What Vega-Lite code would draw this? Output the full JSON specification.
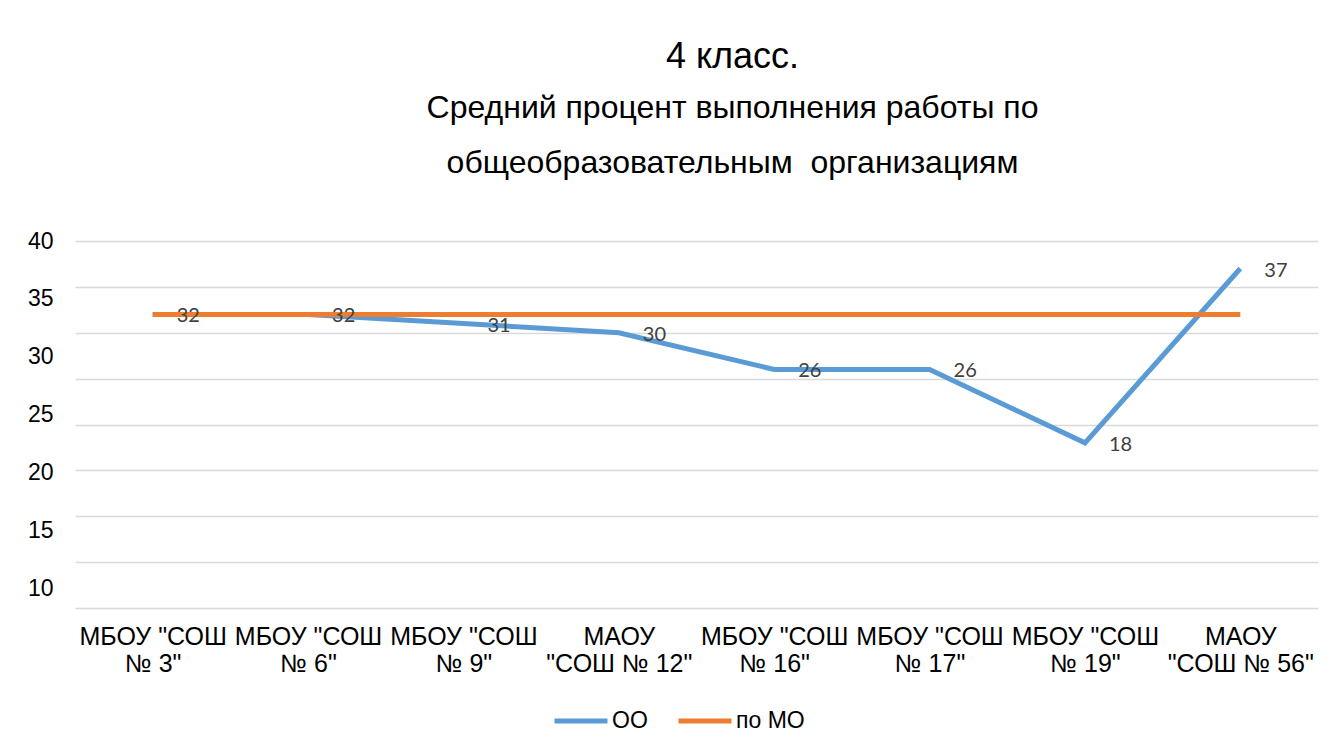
{
  "$schema": "https://vega.github.io/schema/vega-lite/v6.json",
  "autosize": {"type": "none"},
  "padding": {"left": 75, "top": 241, "right": 22, "bottom": 140},
  "width": 1243,
  "height": 367,
  "background": "white",
  "title": {
    "text": "4 класс.",
    "subtitle": ["Средний процент выполнения работы по", "общеобразовательным\u00a0 организациям"],
    "anchor": "middle",
    "dx": 36,
    "offset": 50,
    "font": "Liberation Sans",
    "fontSize": 36,
    "fontWeight": "normal",
    "color": "#000000",
    "subtitleFont": "Liberation Sans",
    "subtitleFontSize": 32,
    "subtitleColor": "#000000",
    "subtitleLineHeight": 55,
    "subtitlePadding": 17
  },
  "data": {
    "values": [
      {"school": "МБОУ \"СОШ\n№ 3\"", "series": "ОО", "value": 32},
      {"school": "МБОУ \"СОШ\n№ 6\"", "series": "ОО", "value": 32},
      {"school": "МБОУ \"СОШ\n№ 9\"", "series": "ОО", "value": 31},
      {"school": "МАОУ\n\"СОШ № 12\"", "series": "ОО", "value": 30},
      {"school": "МБОУ \"СОШ\n№ 16\"", "series": "ОО", "value": 26},
      {"school": "МБОУ \"СОШ\n№ 17\"", "series": "ОО", "value": 26},
      {"school": "МБОУ \"СОШ\n№ 19\"", "series": "ОО", "value": 18},
      {"school": "МАОУ\n\"СОШ № 56\"", "series": "ОО", "value": 37},
      {"school": "МБОУ \"СОШ\n№ 3\"", "series": "по МО", "value": 32},
      {"school": "МБОУ \"СОШ\n№ 6\"", "series": "по МО", "value": 32},
      {"school": "МБОУ \"СОШ\n№ 9\"", "series": "по МО", "value": 32},
      {"school": "МАОУ\n\"СОШ № 12\"", "series": "по МО", "value": 32},
      {"school": "МБОУ \"СОШ\n№ 16\"", "series": "по МО", "value": 32},
      {"school": "МБОУ \"СОШ\n№ 17\"", "series": "по МО", "value": 32},
      {"school": "МБОУ \"СОШ\n№ 19\"", "series": "по МО", "value": 32},
      {"school": "МАОУ\n\"СОШ № 56\"", "series": "по МО", "value": 32}
    ]
  },
  "encoding": {
    "x": {
      "field": "school",
      "type": "nominal",
      "sort": null,
      "scale": {"type": "point", "padding": 0.5},
      "axis": {
        "title": null,
        "labelAngle": 0,
        "labelExpr": "split(datum.label, '\\n')",
        "labelFont": "Liberation Sans",
        "labelFontSize": 25,
        "labelLineHeight": 27,
        "labelColor": "#000000",
        "labelBaseline": "top",
        "labelPadding": 16,
        "labelOverlap": false,
        "labelLimit": 0,
        "ticks": false,
        "domain": false,
        "grid": false
      }
    }
  },
  "layer": [
    {
      "layer": [
        {
          "mark": {"type": "line", "strokeWidth": 5, "strokeCap": "butt", "strokeJoin": "miter"},
          "encoding": {
            "y": {
              "field": "value",
              "type": "quantitative",
              "scale": {"domain": [0, 40], "nice": false, "zero": true},
              "axis": {
                "orient": "right",
                "title": null,
                "values": [0, 5, 10, 15, 20, 25, 30, 35, 40],
                "labels": false,
                "ticks": false,
                "domain": false,
                "grid": true,
                "gridColor": "#d9d9d9",
                "gridWidth": 1.5
              }
            },
            "color": {
              "field": "series",
              "type": "nominal",
              "scale": {"domain": ["ОО", "по МО"], "range": ["#5B9BD5", "#ED7D31"]},
              "legend": {
                "title": null,
                "orient": "none",
                "direction": "horizontal",
                "legendX": 477,
                "legendY": 451,
                "symbolType": "stroke",
                "symbolSize": 2809,
                "symbolStrokeWidth": 5,
                "labelFont": "Liberation Sans",
                "labelFontSize": 23,
                "labelColor": "#000000",
                "labelOffset": 2,
                "columnPadding": 20
              }
            }
          }
        },
        {
          "transform": [{"filter": "datum.series === 'ОО'"}],
          "mark": {"type": "text", "align": "left", "baseline": "middle", "dx": 24, "dy": 2, "font": "Lato", "fontSize": 20, "color": "#404040"},
          "encoding": {
            "y": {"field": "value", "type": "quantitative"},
            "text": {"field": "value", "type": "quantitative"}
          }
        }
      ]
    },
    {
      "transform": [{"filter": "datum.series === 'ОО'"}],
      "mark": {"type": "point", "opacity": 0},
      "encoding": {
        "y": {
          "field": "value",
          "type": "quantitative",
          "scale": {"domain": [8.3, 40], "nice": false, "zero": false},
          "axis": {
            "orient": "left",
            "title": null,
            "values": [10, 15, 20, 25, 30, 35, 40],
            "grid": false,
            "ticks": false,
            "domain": false,
            "labelFont": "Liberation Sans",
            "labelFontSize": 23,
            "labelColor": "#000000",
            "labelPadding": 22
          }
        }
      }
    }
  ],
  "resolve": {"scale": {"y": "independent"}},
  "config": {"view": {"stroke": null}}
}
